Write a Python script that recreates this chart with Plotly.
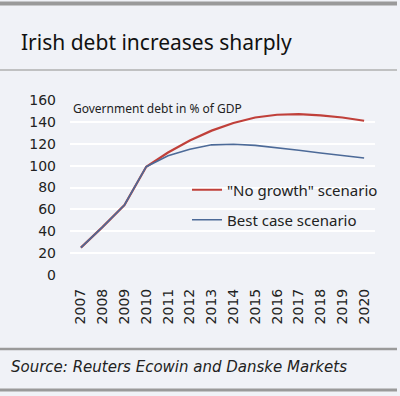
import plotly.graph_objects as go

years = [str(y) for y in range(2007, 2021)]
no_growth = [25, 44, 64, 99, 112, 123, 132, 139, 144, 146.5, 147, 146, 144, 141]
best_case = [25, 44, 64, 99, 109, 115, 119, 119.5, 118.5, 116.5, 114, 111.5, 109, 107]
y_ticks = [0, 20, 40, 60, 80, 100, 120, 140, 160]

BG = "#f0f2f7"
RED = "#c0403a"
BLUE = "#4c6a98"
FONT = "Noto Sans"
TFONT = "DejaVu Sans"

W, H = 400, 396
L, R, T, B = 70, 25, 100, 121
PW, PH = W - L - R, H - T - B

def px(x):
    return (x - L) / PW

def py(y):
    return (H - B - y) / PH

fig = go.Figure()
fig.add_trace(go.Scatter(x=years, y=no_growth, mode="lines", name='"No growth" scenario',
                         line=dict(color=RED, width=2.2), legend="legend"))
fig.add_trace(go.Scatter(x=years, y=best_case, mode="lines", name="Best case scenario",
                         line=dict(color=BLUE, width=1.6), legend="legend2"))

fig.update_layout(
    width=W, height=H,
    margin=dict(l=L, r=R, t=T, b=B),
    paper_bgcolor=BG, plot_bgcolor=BG,
    font=dict(family=FONT, color="#222"),
    showlegend=True,
    legend=dict(x=px(187), y=py(190), xanchor="left", yanchor="middle",
                bgcolor="rgba(0,0,0,0)", font=dict(size=15, color="#222", family=FONT),
                itemwidth=30),
    legend2=dict(x=px(187), y=py(220), xanchor="left", yanchor="middle",
                 bgcolor="rgba(0,0,0,0)", font=dict(size=15, color="#222", family=FONT),
                 itemwidth=30),
    xaxis=dict(type="category", range=[-0.5, len(years) - 0.5], tickangle=-90,
               showgrid=False, zeroline=False, showline=False,
               tickfont=dict(size=14, color="#222", family=TFONT),
               ticks="", ticklabelstandoff=10),
    yaxis=dict(range=[0, 160], tickvals=y_ticks, showgrid=True, gridcolor="#ffffff",
               gridwidth=1.5, zeroline=False, showline=False,
               tickfont=dict(size=14, color="#222", family=TFONT),
               ticks="", ticklabelstandoff=13),
)

shapes = [
    dict(y=py(3.5), w=4, c="#9a9a9a"),
    dict(y=py(70), w=1.5, c="#b0b0b0"),
    dict(y=py(349), w=2.5, c="#9a9a9a"),
    dict(y=py(390), w=3, c="#9a9a9a"),
]
for s in shapes:
    fig.add_shape(type="line", xref="paper", yref="paper", x0=px(0), x1=px(397),
                  y0=s["y"], y1=s["y"], line=dict(color=s["c"], width=s["w"]))

fig.add_annotation(text="Irish debt increases sharply", xref="paper", yref="paper",
                   x=px(19), y=py(42), xanchor="left", yanchor="middle", showarrow=False,
                   font=dict(size=21, color="#111", family=FONT))
fig.add_annotation(text="Government debt in % of GDP", xref="paper", yref="paper",
                   x=px(71), y=py(108), xanchor="left", yanchor="middle", showarrow=False,
                   font=dict(size=12, color="#222", family=FONT))
fig.add_annotation(text="<i>Source: Reuters Ecowin and Danske Markets</i>", xref="paper", yref="paper",
                   x=px(9), y=py(367), xanchor="left", yanchor="middle", showarrow=False,
                   font=dict(size=15, color="#222", family=TFONT))

fig.write_html("out.html", config={"displayModeBar": False},
               post_script="document.body.style.margin='0';")
